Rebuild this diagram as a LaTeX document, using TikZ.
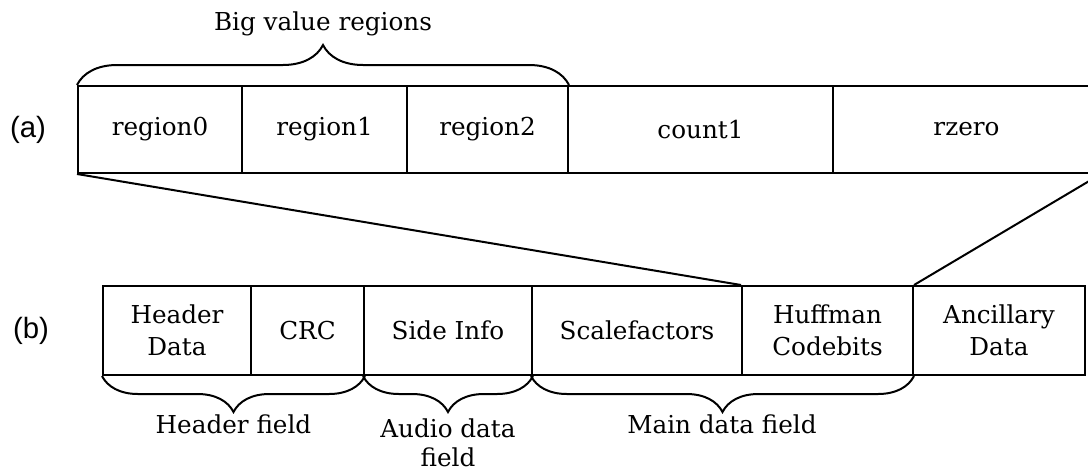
\documentclass[tikz,border=0pt]{standalone}
\usepackage{fontspec}
\setmainfont{DejaVu Serif}
\newfontfamily\rowfont{Liberation Sans}
\usetikzlibrary{decorations.pathreplacing}
\begin{document}
\begin{tikzpicture}[x=0.75pt,y=-0.75pt,
  cell/.style={draw, line width=1.5pt, inner sep=0pt, align=center,
    font=\fontsize{18.5}{24}\selectfont},
  txt/.style={inner sep=0pt, align=center, font=\fontsize{18.5}{22}\selectfont},
  rowlabel/.style={inner sep=0pt, font=\rowfont\fontsize{22}{26}\selectfont},
  bigbrace/.style={decorate, line width=1.5pt,
    decoration={brace, amplitude=30pt}},
  fieldbrace/.style={decorate, line width=1.5pt,
    decoration={brace, amplitude=27pt}}]

  \useasboundingbox (0,0) rectangle (1088,472);
  \clip (0,0) rectangle (1088,472);

  % (a) granule data
  \foreach \name/\x/\w/\text in {r0/160/123/region0, r1/324.5/123.75/region1,
      r2/487.5/120.75/region2, cnt/700.5/198.75/count1, rz/966.5/200.25/rzero}
    \node[cell, minimum width=\w pt, minimum height=65.25pt] (\name) at (\x,129.5) {\text};

  % (b) frame
  \foreach \name/\x/\w/\text in {hdr/177/111/{Header\\Data}, crc/307.5/84.75/CRC,
      side/448/126/Side Info, scf/637/157.5/Scalefactors,
      huff/827.5/128.25/{Huffman\\Codebits}, anc/999/129/{Ancillary\\Data}}
    \node[cell, minimum width=\w pt, minimum height=66.75pt] (\name) at (\x,330.5) {\text};

  \node[rowlabel] (la) at (28,129.5) {(a)};
  \node[rowlabel] (lb) at (31,330.5) {(b)};

  \draw[line width=1.5pt] (r0.south west) -- (huff.north west);
  \draw[line width=1.5pt] (rz.south east) -- (huff.north east);

  \draw[bigbrace] (r0.north west) -- (r2.north east);
  \node[txt] (big) at (323,24) {Big value regions};

  \draw[fieldbrace] (crc.south east) -- (hdr.south west);
  \draw[fieldbrace] (side.south east) -- (side.south west);
  \draw[fieldbrace] (huff.south east) -- (scf.south west);

  \node[txt] (hfield) at (233.5,424) {Header field};
  \node[txt] (afield) at (448,443) {Audio data\\field};
  \node[txt] (mfield) at (722,424) {Main data field};

\end{tikzpicture}
\end{document}
